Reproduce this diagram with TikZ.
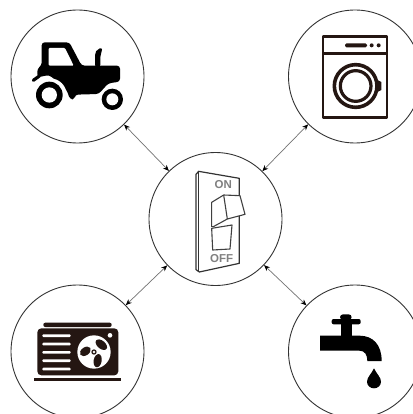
\documentclass[tikz,border=0pt]{standalone}
\usepackage{fontspec}
\setmainfont{Liberation Sans}
\usetikzlibrary{arrows.meta}
\definecolor{ink}{HTML}{241612}
\tikzset{
  hub/.style={circle,draw=black!80,line width=0.9pt,minimum size=133pt,inner sep=0pt},
  link/.style={{Stealth[length=6pt,width=5pt,black]}-{Stealth[length=6pt,width=5pt,black]},draw=black!55,line width=0.7pt},
  zoomed/.style={x=0.33333pt,y=-0.33333pt},
  swlabel/.style={text=black!50,font=\bfseries\fontsize{11.5pt}{11.5pt}\selectfont,inner sep=0pt}
}
\begin{document}
\begin{tikzpicture}[x=1pt,y=-1pt]
\useasboundingbox (0,0) rectangle (412,414);
\fill[white] (0,0) rectangle (412,414);
\node[hub] (tl) at (77.5,76.5) {};
\node[hub] (tr) at (355,76.5) {};
\node[hub] (c) at (215.5,219) {};
\node[hub] (bl) at (77.5,351.5) {};
\node[hub] (br) at (355,351.5) {};
\draw[link] (tl) -- (c);
\draw[link] (tr) -- (c);
\draw[link] (bl) -- (c);
\draw[link] (br) -- (c);
% tractor
\begin{scope}[shift={(0,0)},zoomed]
\fill[black,rounded corners=3pt] (125,127) -- (208,127) -- (245,197) -- (360,197) -- (360,245) -- (325,250) -- (296,282) -- (225,284) -- (224,298) -- (210,298) -- (200,270) -- (148,225) -- (112,232) -- (112,205) -- (125,197) -- cycle;
\fill[white,rounded corners=1pt] (146,144) -- (195,144) -- (221,197) -- (146,197) -- cycle;
\fill[black,rounded corners=2pt] (285,200) -- (285,160) -- (292,148) -- (306,143) -- (306,155) -- (301,165) -- (301,200) -- cycle;
\draw[black,line width=3.2pt,line cap=round] (100,241) -- (118,228);
\fill[white] (150,285) circle[radius=50];
\fill[black] (148,285) circle[radius=40];
\fill[white] (148,285) circle[radius=23];
\fill[white] (337,298) circle[radius=37];
\fill[black] (337,298) circle[radius=32];
\fill[white] (337,298) circle[radius=18];
\end{scope}
% washing machine
\begin{scope}[shift={(270,0)},zoomed]
\draw[ink,line width=2.6pt,line join=round] (159,109) rectangle (351,353);
\draw[ink,line width=2.6pt] (159,160) -- (351,160);
\fill[ink,rounded corners=1.5pt] (225,130) rectangle (291,142);
\fill[ink] (305,136) circle[radius=6];
\fill[ink] (326,136) circle[radius=6];
\fill[ink] (322,240) -- (334,246) -- (334,270) -- (322,276) -- cycle;
\draw[ink,line width=3.6pt] (257,258) circle[radius=64];
\draw[ink,line width=3.2pt] (257,258) circle[radius=46];
\end{scope}
% switch
\begin{scope}[shift={(140,145)},zoomed]
\draw[black!80,line width=1.2pt,fill=white,line join=round] (168,88) -- (176,79) -- (298,100) -- (298,355) -- (178,381) -- (168,374) -- cycle;
\draw[black!80,line width=1.2pt] (176,79) -- (176,381);
\draw[black!75,line width=1.1pt,line join=round] (215,250) -- (276,240) -- (270,312) -- (218,315) -- cycle;
\draw[black!75,line width=1.1pt,fill=white,line join=round] (215,172) -- (251,150) -- (300,152) -- (315,208) -- (262,222) -- (220,245) -- (215,245) -- cycle;
\draw[black!75,line width=1.1pt,line join=round] (251,150) -- (262,222);
\node[swlabel] (on) at (250,118) {ON};
\node[swlabel] (off) at (245,342) {OFF};
\end{scope}
% air conditioner
\begin{scope}[shift={(0,270)},zoomed]
\fill[ink,rounded corners=2pt] (130,158) rectangle (335,171);
\fill[ink,rounded corners=4pt] (112,175) rectangle (355,316);
\fill[ink] (103,323) rectangle (363,332);
\foreach \sy in {197,222,247,272,297} \fill[white,rounded corners=1pt] (127,\sy-4) rectangle (212,\sy+4);
\fill[white] (282,246) circle[radius=50];
\fill[white] (330,196) circle[radius=7];
\fill[ink,rotate around={-40:(304,224)}] (304,224) ellipse[x radius=20,y radius=12];
\fill[ink,rotate around={35:(256,244)}] (256,244) ellipse[x radius=18,y radius=12];
\fill[ink,rotate around={80:(293,272)}] (293,272) ellipse[x radius=20,y radius=12];
\fill[white] (282,246) circle[radius=11];
\fill[ink] (282,246) circle[radius=8];
\fill[white] (282,246) circle[radius=4];
\end{scope}
% faucet
\begin{scope}[shift={(270,270)},zoomed]
\fill[black,rounded corners=2pt] (185,147) rectangle (272,163);
\fill[black,rounded corners=3pt] (210,133) rectangle (245,150);
\fill[black] (212,160) rectangle (245,200);
\fill[black] (150,197) -- (268,197) .. controls (310,197) and (335,225) .. (335,273) -- (292,273) .. controls (292,255) and (285,242) .. (268,242) -- (150,242) -- cycle;
\fill[black] (312,295) .. controls (320,312) and (333,322) .. (333,335) .. controls (333,347) and (323,355) .. (312,355) .. controls (301,355) and (291,347) .. (291,335) .. controls (291,322) and (304,312) .. (312,295) -- cycle;
\end{scope}
\end{tikzpicture}
\end{document}
